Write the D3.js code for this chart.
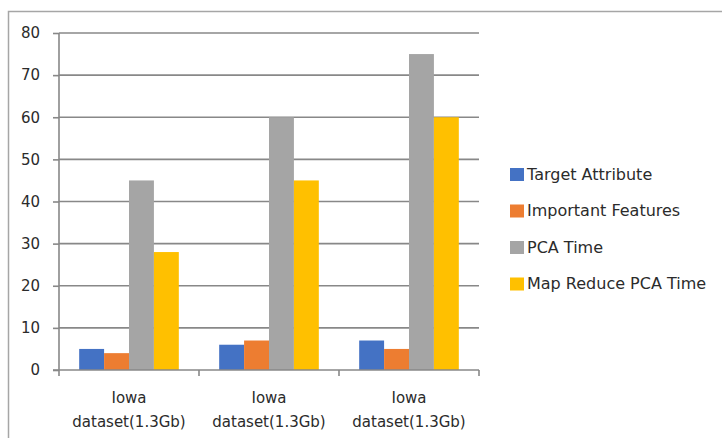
<!DOCTYPE html>
<html>
<head>
<meta charset="utf-8">
<script src="https://cdn.jsdelivr.net/npm/d3@7"></script>
<style>
  html, body { margin: 0; padding: 0; background: #fff; }
  svg { display: block; font-family: "DejaVu Sans", sans-serif; }
</style>
</head>
<body>
<svg id="chart" width="722" height="438"></svg>
<script>
// Categories along the x axis (label lines)
const categories = ["c1", "c2", "c3"];
const categoryLines = ["Iowa", "dataset(1.3Gb)"];

// Series and their values per category
const seriesNames = ["Target Attribute", "Important Features", "PCA Time", "Map Reduce PCA Time"];
const targetAttribute = [5, 6, 7];
const importantFeatures = [4, 7, 5];
const pcaTime = [45, 60, 75];
const mapReducePcaTime = [28, 45, 60];
const seriesColors = ["#4472C4", "#ED7D31", "#A5A5A5", "#FFC000"];

// Y axis ticks
const yTicks = [0, 10, 20, 30, 40, 50, 60, 70, 80];

const seriesValues = [targetAttribute, importantFeatures, pcaTime, mapReducePcaTime];

const svg = d3.select("#chart");

// Frame around the chart area (top and left edges)
svg.append("path")
  .attr("d", "M8.5,438 L8.5,11.5 L722,11.5")
  .attr("fill", "none")
  .attr("stroke", "#a6a6a6")
  .attr("stroke-width", 1.5);

const plot = { left: 59, right: 479, top: 33, bottom: 370 };

const x = d3.scaleBand()
  .domain(categories)
  .range([plot.left, plot.right])
  .paddingInner(0)
  .paddingOuter(0);

const inner = d3.scaleBand()
  .domain(d3.range(seriesNames.length))
  .range([0, x.bandwidth()])
  .paddingOuter(0.81)
  .paddingInner(0);

const y = d3.scaleLinear()
  .domain([0, 80])
  .range([plot.bottom, plot.top]);

// Horizontal gridlines
svg.append("g")
  .selectAll("line")
  .data(yTicks.filter(d => d > 0))
  .join("line")
  .attr("x1", plot.left)
  .attr("x2", plot.right)
  .attr("y1", d => y(d))
  .attr("y2", d => y(d))
  .attr("stroke", "#888")
  .attr("stroke-width", 1.6);

// Bars
const groups = svg.append("g")
  .selectAll("g")
  .data(categories)
  .join("g")
  .attr("transform", d => `translate(${x(d)},0)`);

groups.selectAll("rect")
  .data((c, ci) => seriesValues.map((vals, si) => ({ si, v: vals[ci] })))
  .join("rect")
  .attr("x", d => inner(d.si))
  .attr("width", inner.bandwidth())
  .attr("y", d => y(d.v))
  .attr("height", d => y(0) - y(d.v))
  .attr("fill", d => seriesColors[d.si]);

// Y axis
const yAxis = d3.axisLeft(y)
  .tickValues(yTicks)
  .tickSize(6)
  .tickPadding(13)
  .tickFormat(d3.format("d"));

const yg = svg.append("g")
  .attr("transform", `translate(${plot.left},0)`)
  .call(yAxis);
yg.select(".domain").attr("stroke", "#888").attr("stroke-width", 1.6).attr("d", `M0,${plot.top}V${plot.bottom}`);
yg.selectAll(".tick line").attr("stroke", "#888").attr("stroke-width", 1.6);
yg.selectAll(".tick text")
  .attr("font-family", "DejaVu Sans, sans-serif")
  .attr("font-size", 15)
  .attr("fill", "#2b2b2b");

// X axis with tick marks at category boundaries
const xg = svg.append("g").attr("transform", `translate(0,${plot.bottom})`);
xg.append("line")
  .attr("x1", plot.left - 6).attr("x2", plot.right)
  .attr("stroke", "#888").attr("stroke-width", 1.6);
const boundaries = categories.map(c => x(c)).concat([x(categories[categories.length - 1]) + x.bandwidth()]);
xg.selectAll(".bt")
  .data(boundaries)
  .join("line")
  .attr("x1", d => d).attr("x2", d => d)
  .attr("y1", 0).attr("y2", 6)
  .attr("stroke", "#888").attr("stroke-width", 1.6);

const xl = xg.selectAll(".cl")
  .data(categories)
  .join("text")
  .attr("text-anchor", "middle")
  .attr("font-size", 15)
  .attr("fill", "#2b2b2b")
  .attr("x", d => x(d) + x.bandwidth() / 2);
xl.selectAll("tspan")
  .data(categoryLines)
  .join("tspan")
  .attr("x", function() { return d3.select(this.parentNode).attr("x"); })
  .attr("y", (d, i) => 33 + i * 24)
  .text(d => d);

// Legend
const legend = svg.append("g").attr("transform", "translate(510,0)");
const rows = legend.selectAll("g")
  .data(seriesNames)
  .join("g")
  .attr("transform", (d, i) => `translate(0,${174 + i * 36.5})`);
rows.append("rect")
  .attr("x", 0).attr("y", -6)
  .attr("width", 14).attr("height", 13)
  .attr("fill", (d, i) => seriesColors[i]);
rows.append("text")
  .attr("x", 17)
  .attr("y", 5.5)
  .attr("font-size", 16)
  .attr("fill", "#2b2b2b")
  .text(d => d);
</script>
</body>
</html>
